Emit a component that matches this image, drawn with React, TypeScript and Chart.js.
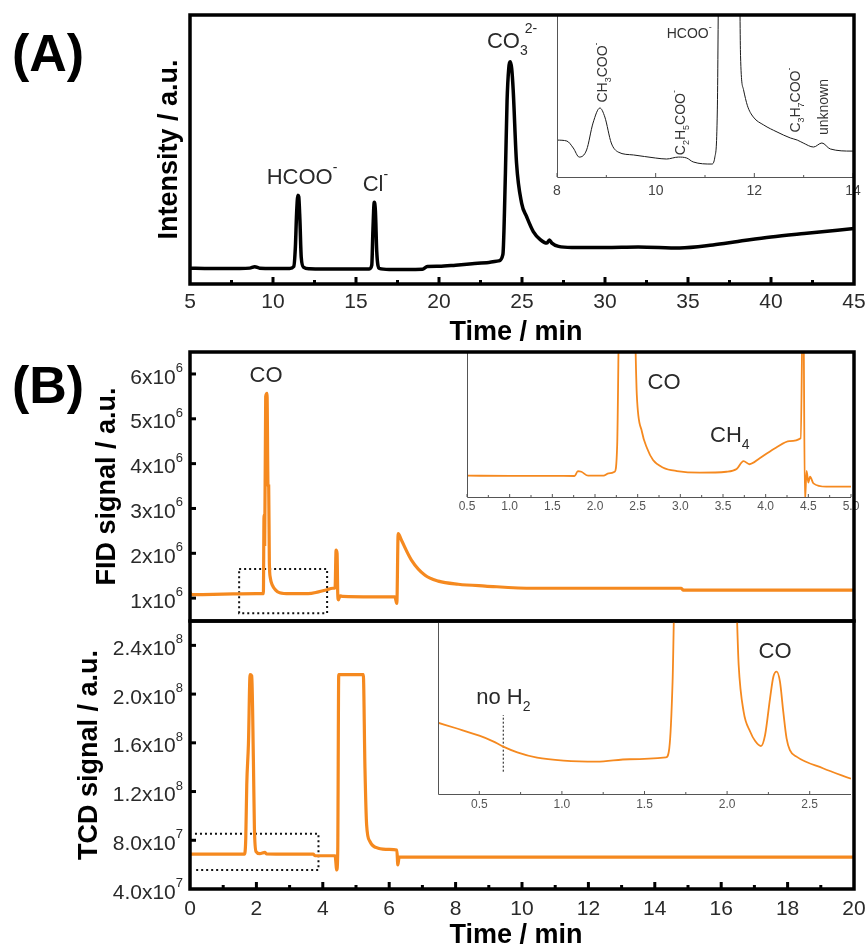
import React, { useEffect, useRef } from "react";
import { Chart, registerables } from "chart.js";

Chart.register(...registerables);

const PAGE_W = 867;
const PAGE_H = 950;
const FONT = '"Liberation Sans", Arial, Helvetica, sans-serif';
const ORANGE = "#F5891F";
const TEXT = "#2a2a2a";

// ---------- (A) ion chromatogram ----------
const aTime = [5, 6, 7, 8, 8.6, 8.9, 9.2, 10, 11, 11.25, 11.35, 11.42, 11.5, 11.55, 11.62, 11.7, 11.85, 12.2, 13, 14, 15, 15.8, 15.95, 16.02, 16.1, 16.17, 16.25, 16.4, 17, 18, 19, 19.3, 20, 21, 22, 23, 23.6, 23.85, 24.0, 24.1, 24.2, 24.3, 24.38, 24.47, 24.67, 24.98, 25.28, 25.68, 26.1, 26.5, 26.65, 26.8, 27.2, 28, 30, 32, 34.5, 36.5, 38, 40, 42, 45];
const aSignal = [5.9, 5.8, 5.8, 5.8, 5.9, 6.4, 5.9, 5.8, 5.8, 6.5, 14, 26, 33, 32.5, 24, 10, 6.2, 5.7, 5.6, 5.6, 5.6, 5.6, 7, 20, 30.4, 27, 12, 5.8, 5.4, 5.4, 5.5, 6.5, 6.6, 7.0, 7.5, 8.0, 8.6, 11, 41, 68, 80, 82.6, 80, 72, 45, 30, 25, 19.5, 16.5, 15.2, 16.4, 15.2, 14, 13.6, 13.6, 13.8, 13.4, 14.5, 15.8, 17.5, 18.8, 20.6];

const aInsetTime = [8, 8.2, 8.33, 8.45, 8.6, 8.73, 8.87, 8.97, 9.1, 9.24, 9.55, 10.0, 10.22, 10.46, 10.63, 10.76, 11.14, 11.2, 11.25, 11.3, 11.68, 11.72, 11.78, 11.86, 11.98, 12.19, 12.46, 12.73, 12.87, 12.99, 13.2, 13.37, 13.54, 13.98, 14];
const aInsetSignal = [22.8, 22.2, 17.9, 12.3, 16.7, 33.3, 42.6, 37, 21, 15.4, 13.6, 11.7, 11.1, 12.3, 11.7, 9.3, 8, 12.3, 41.4, 200, 200, 75, 54, 44, 37, 32.1, 27.8, 24.1, 22.8, 21, 18.5, 21, 17.3, 16, 16];

const aXTicks = [5, 10, 15, 20, 25, 30, 35, 40, 45];
const aXMinor = [7.5, 12.5, 17.5, 22.5, 27.5, 32.5, 37.5, 42.5];
const aInsetTicks = [8, 10, 12, 14];
const aInsetMinor = [9, 11, 13];

// ---------- (B) FID (x10^6) ----------
const fidTime = [0, 0.05, 0.15, 1.0, 2.0, 2.21, 2.23, 2.25, 2.28, 2.32, 2.35, 2.37, 2.39, 2.42, 2.48, 2.58, 2.7, 3.0, 3.56, 3.87, 4.1, 4.3, 4.37, 4.40, 4.43, 4.45, 4.47, 4.52, 4.6, 5.5, 6.17, 6.23, 6.27, 6.37, 6.67, 7.08, 7.48, 8.08, 8.89, 10.34, 12, 14.8, 14.85, 17, 20];
const fidSignal = [1.13, 1.08, 1.08, 1.09, 1.10, 1.10, 2.85, 2.2, 5.5, 5.57, 3.5, 3.5, 1.8, 1.45, 1.29, 1.18, 1.12, 1.10, 1.10, 1.14, 1.18, 1.22, 1.23, 2.07, 2.0, 1.1, 0.96, 1.05, 1.04, 1.03, 1.03, 0.88, 2.44, 2.29, 1.85, 1.51, 1.38, 1.31, 1.27, 1.22, 1.22, 1.22, 1.18, 1.18, 1.18];

const fidInsetTime = [0.5, 1.0, 1.5, 1.76, 1.80, 1.84, 1.92, 2.10, 2.16, 2.23, 2.26, 2.29, 2.45, 2.49, 2.55, 2.61, 2.68, 2.80, 2.96, 3.23, 3.54, 3.66, 3.74, 3.81, 3.93, 4.12, 4.28, 4.41, 4.44, 4.46, 4.48, 4.50, 4.52, 4.56, 4.71, 5.0];
const fidInsetSignal = [14.7, 14.6, 14.6, 14.5, 17.9, 17.4, 14.7, 14.7, 16.3, 17.4, 35.9, 150, 150, 70.3, 45, 33.6, 25.5, 20.2, 17.9, 16.8, 17.4, 19.3, 24.8, 22.6, 26.7, 34, 38.6, 40.5, 150, -3, 18, 10, 14, 9.4, 7.1, 7.1];

const fidBoxTime = [1.48, 4.13, 4.13, 1.48, 1.48];
const fidBoxSignal = [1.65, 1.65, 0.665, 0.665, 1.65];

const fidYTicks = [1, 2, 3, 4, 5, 6];
const fidYLabels = ["1x10", "2x10", "3x10", "4x10", "5x10", "6x10"];
const fidYExp = ["6", "6", "6", "6", "6", "6"];

const fidInsetTicks = [0.5, 1.0, 1.5, 2.0, 2.5, 3.0, 3.5, 4.0, 4.5, 5.0];
const fidInsetMinor = [0.75, 1.25, 1.75, 2.25, 2.75, 3.25, 3.75, 4.25, 4.75];

// ---------- (B) TCD (x10^7) ----------
const tcdTime = [0, 1.0, 1.64, 1.68, 1.71, 1.76, 1.81, 1.86, 1.91, 1.94, 1.99, 2.1, 2.26, 2.3, 3.0, 3.71, 3.77, 4.37, 4.42, 4.45, 4.48, 5.22, 5.27, 5.32, 5.42, 5.67, 6.0, 6.23, 6.26, 6.3, 10, 15, 20];
const tcdSignal = [6.86, 6.86, 6.86, 8.2, 12.6, 15.9, 21.6, 21.5, 14.5, 9.0, 7.07, 6.9, 7.0, 6.88, 6.86, 6.86, 6.73, 6.73, 5.56, 7.07, 21.6, 21.6, 13.9, 9.27, 7.9, 7.35, 7.25, 7.2, 5.97, 6.62, 6.62, 6.62, 6.62];

const tcdInsetTime = [0.25, 0.36, 0.50, 0.58, 0.645, 0.73, 0.85, 1.01, 1.21, 1.41, 1.63, 1.65, 1.67, 1.69, 2.04, 2.07, 2.10, 2.14, 2.17, 2.205, 2.23, 2.26, 2.28, 2.30, 2.32, 2.34, 2.36, 2.38, 2.42, 2.58, 2.75];
const tcdInsetSignal = [41.2, 38, 33.7, 30.6, 27.4, 24.1, 21, 19.3, 18.7, 20.1, 21.2, 26.4, 65, 150, 150, 74.6, 47.6, 36, 30.6, 27.7, 34.1, 55.3, 67.8, 70.7, 64.9, 47.6, 32.2, 25.4, 21.6, 14.9, 8.8];

const tcdBoxTime = [0.15, 3.87, 3.87, 0.15];
const tcdBoxSignal = [8.53, 8.53, 5.56, 5.56];

const noH2Time = [0.645, 0.645];
const noH2Signal = [12.9, 45.7];

const tcdYTicks = [4, 8, 12, 16, 20, 24];
const tcdYLabels = ["4.0x10", "8.0x10", "1.2x10", "1.6x10", "2.0x10", "2.4x10"];
const tcdYExp = ["7", "7", "8", "8", "8", "8"];

const bXTicks = [0, 2, 4, 6, 8, 10, 12, 14, 16, 18, 20];
const bXMinor = [1, 3, 5, 7, 9, 11, 13, 15, 17, 19];

const tcdInsetTicks = [0.5, 1.0, 1.5, 2.0, 2.5];
const tcdInsetMinor = [0.75, 1.25, 1.75, 2.25];

// ---------- helpers ----------
type Seg = { t: string; m?: "sub" | "sup"; dx?: number; dy?: number };

function drawRich(
  ctx: CanvasRenderingContext2D,
  x: number,
  y: number,
  segs: Seg[],
  size: number,
  o: { align?: string; color?: string; weight?: string; rotate?: number } = {}
) {
  const align = o.align || "center";
  const color = o.color || TEXT;
  const weight = o.weight || "normal";
  const small = Math.round(size * 0.62);
  ctx.save();
  ctx.translate(x, y);
  if (o.rotate) ctx.rotate(o.rotate);
  ctx.fillStyle = color;
  ctx.textBaseline = "alphabetic";
  ctx.textAlign = "left";
  const widths = segs.map((s) => {
    ctx.font = `${weight} ${s.m ? small : size}px ${FONT}`;
    return ctx.measureText(s.t).width;
  });
  let total = 0;
  segs.forEach((s, i) => (total += widths[i] + (s.dx || 0)));
  let cx = align === "center" ? -total / 2 : align === "right" ? -total : 0;
  const base = size * 0.36;
  segs.forEach((s, i) => {
    ctx.font = `${weight} ${s.m ? small : size}px ${FONT}`;
    cx += s.dx || 0;
    let by = base;
    if (s.m === "sub") by += size * 0.32;
    if (s.m === "sup") by -= size * 0.55;
    by += s.dy || 0;
    ctx.fillText(s.t, cx, by);
    cx += widths[i];
  });
  ctx.restore();
}

function px(c: any, x: number, y: number): [number, number] {
  return [c.scales.x.getPixelForValue(x), c.scales.y.getPixelForValue(y)];
}

function frame(ctx: CanvasRenderingContext2D, a: any, lw = 3) {
  ctx.save();
  ctx.strokeStyle = "#000";
  ctx.lineWidth = lw;
  ctx.lineJoin = "miter";
  ctx.strokeRect(a.left, a.top, a.right - a.left, a.bottom - a.top);
  ctx.restore();
}

function bottomTicks(c: any, vals: number[], len: number, lw: number, color = "#000") {
  const ctx = c.ctx as CanvasRenderingContext2D;
  const b = c.chartArea.bottom;
  ctx.save();
  ctx.strokeStyle = color;
  ctx.lineWidth = lw;
  vals.forEach((v) => {
    const p = c.scales.x.getPixelForValue(v);
    ctx.beginPath();
    ctx.moveTo(p, b);
    ctx.lineTo(p, b - len);
    ctx.stroke();
  });
  ctx.restore();
}

function leftTicks(c: any, vals: number[], len: number, lw: number) {
  const ctx = c.ctx as CanvasRenderingContext2D;
  const l = c.chartArea.left;
  ctx.save();
  ctx.strokeStyle = "#000";
  ctx.lineWidth = lw;
  vals.forEach((v) => {
    const p = c.scales.y.getPixelForValue(v);
    ctx.beginPath();
    ctx.moveTo(l, p);
    ctx.lineTo(l + len, p);
    ctx.stroke();
  });
  ctx.restore();
}

function bottomLabels(c: any, vals: number[], labels: string[], dy: number, size: number, color: string) {
  const b = c.chartArea.bottom;
  vals.forEach((v, i) => {
    drawRich(c.ctx, c.scales.x.getPixelForValue(v), b + dy, [{ t: labels[i] }], size, { color });
  });
}

function leftExpLabels(c: any, vals: number[], labels: string[], exps: string[]) {
  const l = c.chartArea.left;
  vals.forEach((v, i) => {
    const p = c.scales.y.getPixelForValue(v);
    drawRich(c.ctx, l - 7, p + 2, [{ t: labels[i] }, { t: exps[i], m: "sup" }], 21, { align: "right" });
  });
}

function insetAxes(c: any, color = "#555") {
  const ctx = c.ctx as CanvasRenderingContext2D;
  const a = c.chartArea;
  ctx.save();
  ctx.strokeStyle = color;
  ctx.lineWidth = 1;
  ctx.beginPath();
  ctx.moveTo(a.left + 0.5, a.top);
  ctx.lineTo(a.left + 0.5, a.bottom + 0.5);
  ctx.lineTo(a.right, a.bottom + 0.5);
  ctx.stroke();
  ctx.restore();
}

function line(xs: number[], ys: number[], color: string, width: number, extra: any = {}) {
  return {
    data: xs.map((x, i) => ({ x, y: ys[i] })),
    borderColor: color,
    borderWidth: width,
    pointRadius: 0,
    fill: false,
    tension: 0,
    cubicInterpolationMode: "monotone",
    ...extra,
  };
}

type Spec = {
  area: [number, number, number, number];
  x: [number, number];
  y: [number, number];
  datasets: any[];
  draw: (c: any, ctx: CanvasRenderingContext2D) => void;
};

function makeChart(canvas: HTMLCanvasElement, s: Spec) {
  const [L, T, R, B] = s.area;
  return new Chart(canvas, {
    type: "line",
    data: { datasets: s.datasets },
    options: {
      animation: false,
      responsive: false,
      maintainAspectRatio: false,
      events: [],
      layout: { padding: { left: L, top: T, right: PAGE_W - R, bottom: PAGE_H - B } },
      plugins: { legend: { display: false }, tooltip: { enabled: false } },
      scales: {
        x: { type: "linear", min: s.x[0], max: s.x[1], display: false },
        y: { type: "linear", min: s.y[0], max: s.y[1], display: false },
      },
      elements: { point: { radius: 0 } },
    } as any,
    plugins: [
      {
        id: "decor",
        afterDraw(c: any) {
          s.draw(c, c.ctx);
        },
      },
    ],
  });
}

const SUP_MINUS: Seg = { t: "-", m: "sup" };

export default function App() {
  const refs = [useRef<HTMLCanvasElement>(null), useRef<HTMLCanvasElement>(null), useRef<HTMLCanvasElement>(null), useRef<HTMLCanvasElement>(null), useRef<HTMLCanvasElement>(null), useRef<HTMLCanvasElement>(null)];

  useEffect(() => {
    const specs: Spec[] = [
      // 0: A inset
      {
        area: [557, 15, 853, 177],
        x: [8, 14],
        y: [0, 100],
        datasets: [line(aInsetTime, aInsetSignal, "#1a1a1a", 1)],
        draw: (c, ctx) => {
          insetAxes(c, "#555");
          bottomTicks(c, aInsetTicks, 4, 1, "#555");
          bottomTicks(c, aInsetMinor, 2, 1, "#555");
          bottomLabels(c, aInsetTicks, aInsetTicks.map(String), 13, 14, "#444");
          const R = -Math.PI / 2;
          let p = px(c, 8.91, 64.5);
          drawRich(ctx, p[0], p[1], [{ t: "CH" }, { t: "3", m: "sub" }, { t: "COO" }, SUP_MINUS], 14, { rotate: R, color: "#333" });
          p = px(c, 10.68, 88.9);
          drawRich(ctx, p[0], p[1], [{ t: "HCOO" }, SUP_MINUS], 14, { color: "#333" });
          p = px(c, 10.49, 33.6);
          drawRich(ctx, p[0], p[1], [{ t: "C" }, { t: "2", m: "sub" }, { t: "H" }, { t: "5", m: "sub" }, { t: "COO" }, SUP_MINUS], 14, { rotate: R, color: "#333" });
          p = px(c, 12.82, 47.5);
          drawRich(ctx, p[0], p[1], [{ t: "C" }, { t: "3", m: "sub" }, { t: "H" }, { t: "7", m: "sub" }, { t: "COO" }, SUP_MINUS], 14, { rotate: R, color: "#333" });
          p = px(c, 13.39, 43.2);
          drawRich(ctx, p[0], p[1], [{ t: "unknown" }], 14, { rotate: R, color: "#333" });
        },
      },
      // 1: A main
      {
        area: [190, 15, 854, 284],
        x: [5, 45],
        y: [0, 100],
        datasets: [line(aTime, aSignal, "#000", 3.5)],
        draw: (c, ctx) => {
          const a = c.chartArea;
          frame(ctx, a, 3.5);
          bottomTicks(c, aXTicks.slice(1, -1), 7, 3);
          bottomTicks(c, aXMinor, 4, 3);
          bottomLabels(c, aXTicks, aXTicks.map(String), 16, 21, TEXT);
          drawRich(ctx, (a.left + a.right) / 2 - 6, a.bottom + 46, [{ t: "Time / min" }], 27, { weight: "bold", color: "#000" });
          drawRich(ctx, 167, (a.top + a.bottom) / 2, [{ t: "Intensity / a.u." }], 27, { weight: "bold", color: "#000", rotate: -Math.PI / 2 });
          drawRich(ctx, 12, 52, [{ t: "(A)" }], 52, { weight: "bold", color: "#000", align: "left" });
          let p = px(c, 11.75, 40.1);
          drawRich(ctx, p[0], p[1], [{ t: "HCOO" }, SUP_MINUS], 22);
          p = px(c, 16.17, 37.5);
          drawRich(ctx, p[0], p[1], [{ t: "Cl" }, SUP_MINUS], 22);
          p = px(c, 24.4, 90.7);
          drawRich(ctx, p[0], p[1], [{ t: "CO" }, { t: "3", m: "sub" }, { t: "2-", m: "sup", dx: -3, dy: -3 }], 22);
        },
      },
      // 2: FID inset
      {
        area: [467, 352, 851, 497],
        x: [0.5, 5.0],
        y: [0, 100],
        datasets: [line(fidInsetTime, fidInsetSignal, ORANGE, 1.8)],
        draw: (c, ctx) => {
          insetAxes(c, "#555");
          bottomTicks(c, fidInsetTicks, 3, 1, "#555");
          bottomTicks(c, fidInsetMinor, 2, 1, "#555");
          bottomLabels(c, fidInsetTicks, fidInsetTicks.map((v) => v.toFixed(1)), 9, 12, "#555");
          let p = px(c, 2.81, 80);
          drawRich(ctx, p[0], p[1], [{ t: "CO" }], 22);
          p = px(c, 3.58, 43.4);
          drawRich(ctx, p[0], p[1], [{ t: "CH" }, { t: "4", m: "sub" }], 22);
        },
      },
      // 3: FID main
      {
        area: [190, 352, 854, 621],
        x: [0, 20],
        y: [0.49, 6.49],
        datasets: [
          line(fidTime, fidSignal, ORANGE, 3.2),
          line(fidBoxTime, fidBoxSignal, "#111", 2, { borderDash: [2, 3], cubicInterpolationMode: "default" }),
        ],
        draw: (c, ctx) => {
          const a = c.chartArea;
          frame(ctx, a, 3.5);
          leftTicks(c, fidYTicks, 6, 3);
          leftExpLabels(c, fidYTicks, fidYLabels, fidYExp);
          drawRich(ctx, 105, (a.top + a.bottom) / 2, [{ t: "FID signal / a.u." }], 27, { weight: "bold", color: "#000", rotate: -Math.PI / 2 });
          drawRich(ctx, 12, 384, [{ t: "(B)" }], 52, { weight: "bold", color: "#000", align: "left" });
          const p = px(c, 2.29, 6.0);
          drawRich(ctx, p[0], p[1], [{ t: "CO" }], 22);
        },
      },
      // 4: TCD inset
      {
        area: [438, 621, 851, 794],
        x: [0.25, 2.75],
        y: [0, 100],
        datasets: [
          line(tcdInsetTime, tcdInsetSignal, ORANGE, 1.8),
          line(noH2Time, noH2Signal, "#111", 1, { borderDash: [2, 2], cubicInterpolationMode: "default" }),
        ],
        draw: (c, ctx) => {
          insetAxes(c, "#555");
          bottomTicks(c, tcdInsetTicks, 3, 1, "#555");
          bottomTicks(c, tcdInsetMinor, 2, 1, "#555");
          bottomLabels(c, tcdInsetTicks, tcdInsetTicks.map((v) => v.toFixed(1)), 10, 12, "#555");
          let p = px(c, 2.29, 83.2);
          drawRich(ctx, p[0], p[1], [{ t: "CO" }], 22);
          p = px(c, 0.646, 56.6);
          drawRich(ctx, p[0], p[1], [{ t: "no H" }, { t: "2", m: "sub" }], 22);
        },
      },
      // 5: TCD main
      {
        area: [190, 621, 854, 889],
        x: [0, 20],
        y: [4, 26],
        datasets: [
          line(tcdTime, tcdSignal, ORANGE, 3.2),
          line(tcdBoxTime, tcdBoxSignal, "#111", 2, { borderDash: [2, 3], cubicInterpolationMode: "default" }),
        ],
        draw: (c, ctx) => {
          const a = c.chartArea;
          frame(ctx, a, 3.5);
          leftTicks(c, tcdYTicks.slice(1), 6, 3);
          leftExpLabels(c, tcdYTicks, tcdYLabels, tcdYExp);
          bottomTicks(c, bXTicks.slice(1, -1), 7, 3);
          bottomTicks(c, bXMinor, 4, 3);
          bottomLabels(c, bXTicks, bXTicks.map(String), 18, 21, TEXT);
          drawRich(ctx, (a.left + a.right) / 2 - 6, a.bottom + 44, [{ t: "Time / min" }], 27, { weight: "bold", color: "#000" });
          drawRich(ctx, 87, (a.top + a.bottom) / 2, [{ t: "TCD signal / a.u." }], 27, { weight: "bold", color: "#000", rotate: -Math.PI / 2 });
        },
      },
    ];
    const charts = specs.map((s, i) => makeChart(refs[i].current as HTMLCanvasElement, s));
    return () => charts.forEach((ch) => ch.destroy());
  }, []);

  return (
    <div style={{ position: "absolute", left: 0, top: 0, width: PAGE_W, height: PAGE_H, background: "#fff" }}>
      {refs.map((r, i) => (
        <canvas
          key={i}
          ref={r}
          width={PAGE_W}
          height={PAGE_H}
          style={{ position: "absolute", left: 0, top: 0, width: PAGE_W, height: PAGE_H }}
        />
      ))}
    </div>
  );
}
